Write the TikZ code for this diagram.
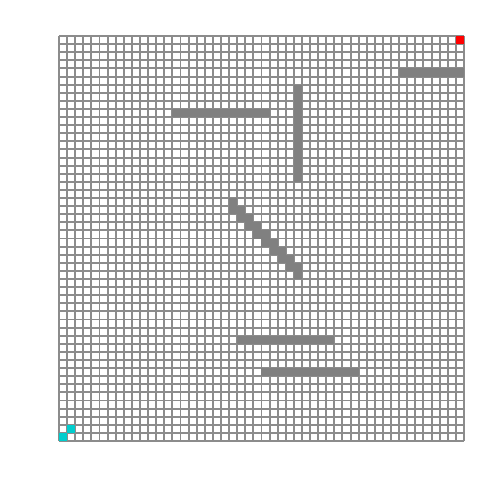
\documentclass[tikz,border=0pt]{standalone}
\usepackage{tikz}

\begin{document}
\begin{tikzpicture}[
    x=0.02cm, y=0.02cm,
    gridline/.style={draw=gray!90, line width=1.1pt},
    wall/.style={fill=gray},
    startcell/.style={fill={rgb,255:red,0;green,205;blue,205}},
    goalcell/.style={fill=red}
  ]
    \useasboundingbox (0,0) rectangle (500,500);
    \begin{scope}[shift={(59,59)}, x=0.162cm, y=0.162cm]
      % grid of 50 x 50 cells
      \foreach \k in {0,...,50} {
        \draw[gridline] (\k,0) -- (\k,50);
        \draw[gridline] (0,\k) -- (50,\k);
      }
      % walls
      \fill[wall] (42,45) rectangle (50,46);
      \fill[wall] (14,40) rectangle (26,41);
      \fill[wall] (29,32) rectangle (30,44);
      \foreach \c in {21,...,29}
        \fill[wall] (\c,49-\c) rectangle (\c+1,51-\c);
      \fill[wall] (22,12) rectangle (34,13);
      \fill[wall] (25,8) rectangle (37,9);
      % start and goal
      \fill[startcell] (0,0) rectangle (1,1);
      \fill[startcell] (1,1) rectangle (2,2);
      \fill[goalcell] (49,49) rectangle (50,50);
    \end{scope}
\end{tikzpicture}
\end{document}
